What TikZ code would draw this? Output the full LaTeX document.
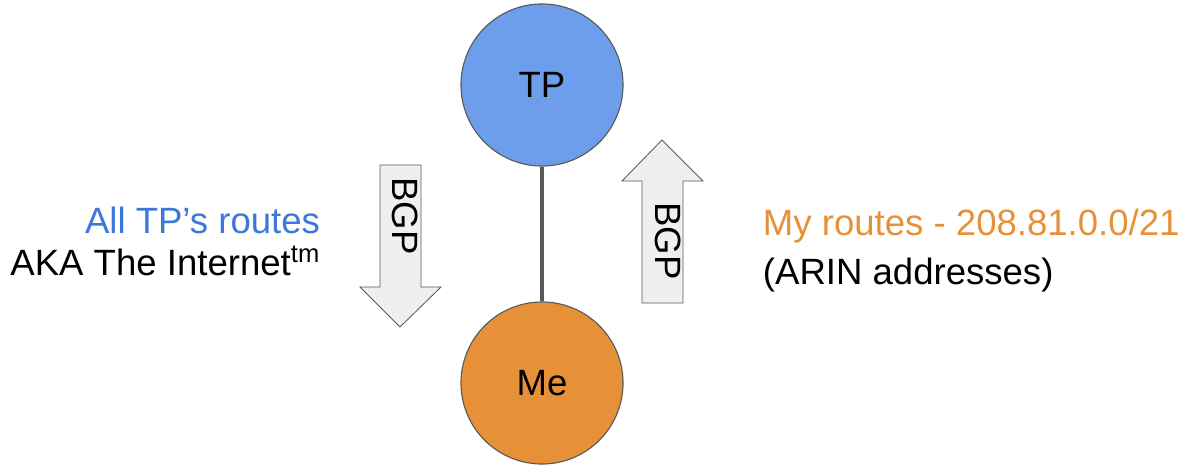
\documentclass[tikz,border=0pt]{standalone}
\usepackage{fontspec}
\setmainfont{Liberation Sans}
\definecolor{tpblue}{HTML}{6D9EEB}
\definecolor{meorange}{HTML}{E69138}
\definecolor{textblue}{HTML}{3C78D8}
\definecolor{edgegray}{HTML}{595959}
\definecolor{arrowfill}{HTML}{EFEFEF}

\begin{document}
\begin{tikzpicture}[x=0.025cm,y=-0.025cm,
  every node/.style={font=\fontsize{26}{31}\selectfont},
  router/.style={circle,draw=edgegray,line width=0.8pt,minimum size=4.05cm,inner sep=0pt},
  link/.style={draw=edgegray,line width=3.5pt},
  bigarrow/.style={draw=edgegray,fill=arrowfill,line width=0.6pt},
  bgp/.style={rotate=-90,inner sep=0pt}]
  \useasboundingbox (0,0) rectangle (1185,466);
  \node[router,fill=tpblue] (tp) at (542,85) {TP};
  \node[router,fill=meorange] (me) at (542,383) {Me};
  \draw[link] (tp) -- (me);
  % routes coming down from TP
  \draw[bigarrow] (380,165) -- (421,165) -- (421,287) -- (441,287) -- (400,327) -- (360,287) -- (380,287) -- cycle;
  \node[bgp] (bgpdown) at (405,216) {BGP};
  % routes going up to TP
  \draw[bigarrow] (642,303) -- (683,303) -- (683,181) -- (703,181) -- (662,140) -- (622,181) -- (642,181) -- cycle;
  \node[bgp] (bgpup) at (668,241) {BGP};
  % labels
  \node[anchor=base east,text=textblue] (tproutes) at (325,233) {All TP’s routes};
  \node[anchor=base east] (internet) at (325,275) {AKA The Internet\textsuperscript{tm}};
  \node[anchor=base west,text=meorange] (myroutes) at (758,235) {My routes - 208.81.0.0/21};
  \node[anchor=base west] (arin) at (758,284) {(ARIN addresses)};
\end{tikzpicture}
\end{document}
